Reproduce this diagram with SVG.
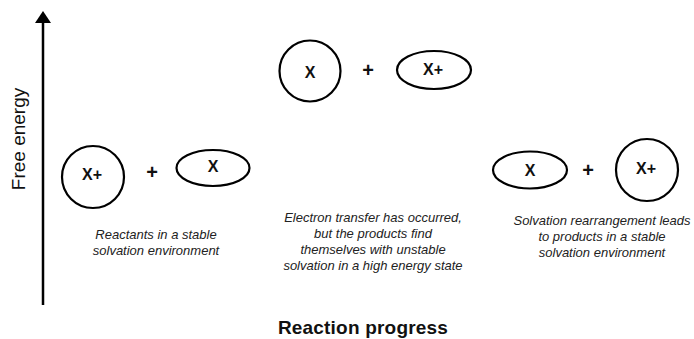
<svg xmlns="http://www.w3.org/2000/svg" width="694" height="339" viewBox="0 0 694 339">
<defs>
<style>
.sh{fill:none;stroke:#000;stroke-width:2.2}
.lb{font-family:"Liberation Sans",Arial,sans-serif;font-weight:bold;font-size:16px;fill:#111;text-anchor:middle;dominant-baseline:central}
.pl{font-family:"Liberation Sans",Arial,sans-serif;font-weight:bold;font-size:20px;fill:#111;text-anchor:middle;dominant-baseline:central}
.ds{font-family:"Liberation Sans",Arial,sans-serif;font-style:italic;font-size:13px;fill:#222;text-anchor:middle}
.ax{font-family:"Liberation Sans",Arial,sans-serif;font-size:19px;fill:#111;text-anchor:middle}
</style>
<marker id="ah" viewBox="0 0 12 16" refX="0" refY="8" markerWidth="12" markerHeight="16" markerUnits="userSpaceOnUse" orient="auto">
<path d="M0,0 L12,8 L0,16 Z" fill="#000"/>
</marker>
</defs>
<rect width="694" height="339" fill="#fff"/>
<g id="connectors">
<line x1="43" y1="305" x2="43" y2="23" stroke="#000" stroke-width="2.5" marker-end="url(#ah)"/>
</g>
<g id="axis-labels">
<text class="ax" transform="translate(25,139) rotate(-90)">Free energy</text>
<text class="ax" x="363" y="334" font-size="18" font-weight="bold" letter-spacing="0.2">Reaction progress</text>
</g>
<g id="reactants">
<circle class="sh" cx="93" cy="177" r="31"/>
<text class="lb" x="92" y="174">X+</text>
<text class="pl" x="152" y="172">+</text>
<ellipse class="sh" cx="213" cy="168" rx="36.5" ry="18"/>
<text class="lb" x="213" y="166">X</text>
<text class="ds" x="156" y="239">Reactants in a stable</text>
<text class="ds" x="156" y="255">solvation environment</text>
</g>
<g id="transition">
<circle class="sh" cx="310" cy="71" r="30.5"/>
<text class="lb" x="310" y="72">X</text>
<text class="pl" x="368" y="70">+</text>
<ellipse class="sh" cx="434" cy="70" rx="37" ry="19"/>
<text class="lb" x="433" y="69">X+</text>
<text class="ds" x="373" y="222">Electron transfer has occurred,</text>
<text class="ds" x="373" y="238">but the products find</text>
<text class="ds" x="373" y="254">themselves with unstable</text>
<text class="ds" x="373" y="270">solvation in a high energy state</text>
</g>
<g id="products">
<ellipse class="sh" cx="530" cy="170" rx="37" ry="18.5"/>
<text class="lb" x="530" y="170">X</text>
<text class="pl" x="588" y="170">+</text>
<circle class="sh" cx="647" cy="170" r="31"/>
<text class="lb" x="646" y="168">X+</text>
<text class="ds" x="602" y="225">Solvation rearrangement leads</text>
<text class="ds" x="602" y="241">to products in a stable</text>
<text class="ds" x="602" y="257">solvation environment</text>
</g>
</svg>
